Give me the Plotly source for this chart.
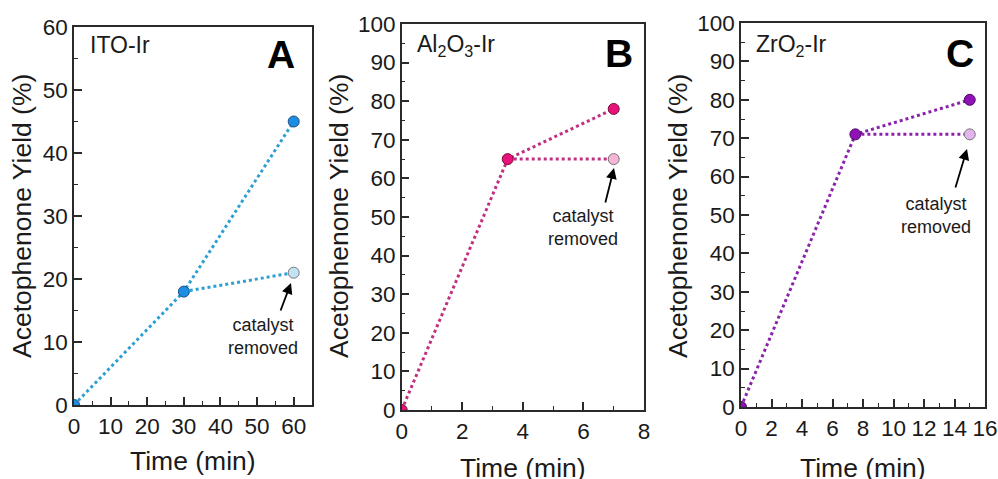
import plotly.graph_objects as go

W, H = 998, 479

# ---- data ----
a_time = [0, 30, 60]
a_yield = [0, 18, 45]
a_rem_time = [30, 60]
a_rem_yield = [18, 21]

b_time = [0, 3.5, 7]
b_yield = [0, 65, 78]
b_rem_time = [3.5, 7]
b_rem_yield = [65, 65]

c_time = [0, 7.5, 15]
c_yield = [0, 71, 80]
c_rem_time = [7.5, 15]
c_rem_yield = [71, 71]

FONT = "Liberation Sans, Arial, sans-serif"


def fx(px):
    return px / W


def fy(py):
    return (H - py) / H


panels = [
    dict(t=a_time, y=a_yield, rt=a_rem_time, ry=a_rem_yield,
         line="#2c9fd3", mk="#1b8fe6", mk_line="#1d4f7a", light="#c4e2f6",
         px=(74, 312), py=(27, 405), xr=[0, 65], yr=[0, 60], xd=10, xm=5,
         label="ITO-Ir", lx=88, letter="A", letx=281, letter_y=55,
         arrow_tail=(280, 312), arrow_head=(291, 283), txt=(263, 336),
         ytitle_x=22, xtitle_y=461),
    dict(t=b_time, y=b_yield, rt=b_rem_time, ry=b_rem_yield,
         line="#c12f80", mk="#e8137a", mk_line="#7a1040", light="#f6b5d6",
         px=(401.7, 644), py=(24, 410), xr=[0, 8], yr=[0, 100], xd=2, xm=1,
         label="Al<sub>2</sub>O<sub>3</sub>-Ir", lx=415, letter="B", letx=619, letter_y=53,
         arrow_tail=(605, 204), arrow_head=(614, 168), txt=(583, 228),
         ytitle_x=339, xtitle_y=468),
    dict(t=c_time, y=c_yield, rt=c_rem_time, ry=c_rem_yield,
         line="#8b22aa", mk="#9011b8", mk_line="#4a0a60", light="#e3b4ee",
         px=(741, 985), py=(23, 407), xr=[0, 16], yr=[0, 100], xd=2, xm=1,
         label="ZrO<sub>2</sub>-Ir", lx=754, letter="C", letx=960, letter_y=53,
         arrow_tail=(955, 189), arrow_head=(967, 149), txt=(936, 216),
         ytitle_x=678, xtitle_y=468),
]

fig = go.Figure()
annotations = []
layout = {}
for i, p in enumerate(panels, start=1):
    xa = "x" if i == 1 else f"x{i}"
    ya = "y" if i == 1 else f"y{i}"
    fig.add_trace(go.Scatter(
        x=p["t"], y=p["y"], xaxis=xa, yaxis=ya, mode="lines",
        line=dict(color=p["line"], width=3, dash="dot"), showlegend=False))
    fig.add_trace(go.Scatter(
        x=p["rt"], y=p["ry"], xaxis=xa, yaxis=ya, mode="lines",
        line=dict(color=p["line"], width=3, dash="dot"), showlegend=False))
    fig.add_trace(go.Scatter(
        x=p["rt"][1:], y=p["ry"][1:], xaxis=xa, yaxis=ya, mode="markers",
        marker=dict(size=11, color=p["light"], line=dict(color="#777777", width=1)),
        showlegend=False))
    fig.add_trace(go.Scatter(
        x=p["t"], y=p["y"], xaxis=xa, yaxis=ya, mode="markers",
        marker=dict(size=11, color=p["mk"], line=dict(color=p["mk_line"], width=1)),
        showlegend=False))

    x0, x1 = p["px"]
    yt, yb = p["py"]
    axis_common = dict(
        showline=True, mirror=True, linecolor="#2a2a2a", linewidth=1.5,
        ticks="inside", ticklen=8, tickwidth=1.5, tickcolor="#2a2a2a",
        showgrid=False, zeroline=False, automargin=False, ticklabeloverflow="allow",
        tickfont=dict(family=FONT, size=22.5, color="#1a1a1a"),
    )
    layout["xaxis" if i == 1 else f"xaxis{i}"] = dict(
        axis_common, domain=[fx(x0), fx(x1)], range=p["xr"], dtick=p["xd"], tick0=0,
        anchor=ya, minor=dict(ticks="inside", ticklen=4, dtick=p["xm"], tickcolor="#2a2a2a", tickwidth=1.2))
    layout["yaxis" if i == 1 else f"yaxis{i}"] = dict(
        axis_common, domain=[fy(yb), fy(yt)], range=p["yr"], dtick=10, tick0=0,
        anchor=xa, minor=dict(ticks="inside", ticklen=4, dtick=5, tickcolor="#2a2a2a", tickwidth=1.2))

    annotations.append(dict(
        x=fx(p["ytitle_x"]), y=fy(216), xref="paper", yref="paper",
        text="Acetophenone Yield (%)", textangle=-90, showarrow=False,
        font=dict(family=FONT, size=26.5, color="#1a1a1a"), xanchor="center", yanchor="middle"))
    annotations.append(dict(
        x=fx((x0 + x1) / 2), y=fy(p["xtitle_y"]), xref="paper", yref="paper",
        text="Time (min)", showarrow=False,
        font=dict(family=FONT, size=26.5, color="#1a1a1a"), xanchor="center", yanchor="middle"))
    annotations.append(dict(
        x=fx(p["lx"]), y=fy(45), xref="paper", yref="paper",
        text=p["label"], showarrow=False, xanchor="left", yanchor="middle",
        font=dict(family=FONT, size=23, color="#1a1a1a")))
    annotations.append(dict(
        x=fx(p["letx"]), y=fy(p["letter_y"]), xref="paper", yref="paper",
        text="<b>" + p["letter"] + "</b>", showarrow=False, xanchor="center", yanchor="middle",
        font=dict(family=FONT, size=39, color="#000000")))
    hx, hy = p["arrow_head"]
    tx, ty = p["arrow_tail"]
    annotations.append(dict(
        x=fx(hx), y=fy(hy), ax=tx - hx, ay=ty - hy,
        xref="paper", yref="paper", axref="pixel", ayref="pixel",
        text="", showarrow=True, arrowhead=2, arrowsize=1.2, arrowwidth=1.8, arrowcolor="#000000"))
    annotations.append(dict(
        x=fx(p["txt"][0]), y=fy(p["txt"][1]), xref="paper", yref="paper",
        text="catalyst<br>removed", showarrow=False, xanchor="center", yanchor="middle",
        align="center", font=dict(family=FONT, size=18, color="#1a1a1a")))

fig.update_layout(
    template="none",
    width=W, height=H, margin=dict(l=0, r=0, t=0, b=0, pad=0),
    paper_bgcolor="white", plot_bgcolor="white",
    annotations=annotations, **layout)

fig.write_html(
    "out.html",
    config={"displayModeBar": False},
    post_script="document.body.style.margin='0px';document.body.style.overflow='hidden';")
